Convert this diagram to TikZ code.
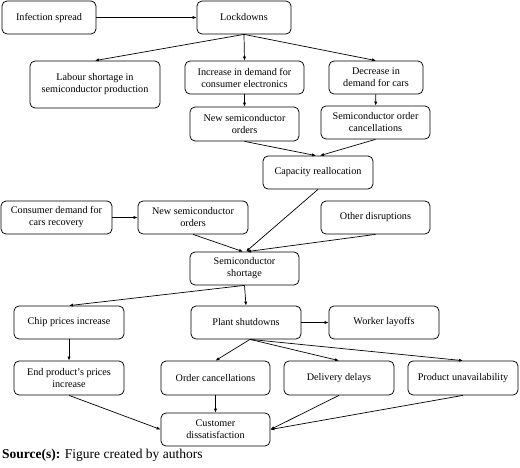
\documentclass[tikz,border=0pt]{standalone}
\usepackage{fontspec}
\setmainfont{Liberation Serif}
\usetikzlibrary{arrows.meta}
\begin{document}
\begin{tikzpicture}[x=1pt,y=-1pt,
  box/.style={draw, line width=0.75pt, rounded corners=5pt, align=center, inner sep=1pt,
    font=\fontsize{10.2}{12}\selectfont},
  arr/.style={draw, line width=0.7pt, -{Latex[length=4pt,width=3.2pt]}}]
\useasboundingbox (0,0) rectangle (520,468);
\newcommand{\bx}[6]{\node[box, minimum width=#4pt, minimum height=#5pt] (#1) at (#2,#3) {#6};}
\bx{inf}{49}{17.5}{94}{33}{Infection spread}
\bx{lock}{244}{17.5}{94}{33}{Lockdowns}
\bx{labour}{95}{84.5}{130}{47}{Labour shortage in\\semiconductor production}
\bx{incr}{244.5}{77.5}{119}{33}{Increase in demand for\\consumer electronics}
\bx{decr}{376}{77.5}{94}{33}{Decrease in\\demand for cars}
\bx{nsoa}{244.5}{124}{109}{34}{New semiconductor\\orders}
\bx{soc}{375.5}{122.5}{109}{33}{Semiconductor order\\cancellations}
\bx{cap}{318}{172.5}{110}{33}{Capacity reallocation}
\bx{cons}{56.5}{217.5}{111}{33}{Consumer demand for\\cars recovery}
\bx{nsob}{193}{217.5}{110}{33}{New semiconductor\\orders}
\bx{other}{375.5}{217.5}{109}{33}{Other disruptions}
\bx{short}{244.5}{268.5}{109}{33}{Semiconductor\\shortage}
\bx{chip}{69}{322.5}{110}{33}{Chip prices increase}
\bx{plant}{246}{322.5}{110}{33}{Plant shutdowns}
\bx{worker}{384}{322.5}{110}{33}{Worker layoffs}
\bx{endp}{69}{378}{110}{34}{End product's prices\\increase}
\bx{ordc}{215.5}{378}{109}{34}{Order cancellations}
\bx{deliv}{339}{378}{110}{34}{Delivery delays}
\bx{prod}{463}{378}{110}{34}{Product unavailability}
\bx{cust}{215.5}{429.5}{109}{33}{Customer\\dissatisfaction}
\path[arr] (inf) -- (lock);
\path[arr] (lock.south) -- (labour.north);
\path[arr] (lock.south) -- (incr.north);
\path[arr] (lock.south) -- (decr.north);
\path[arr] (incr) -- (nsoa);
\path[arr] (decr) -- (soc);
\path[arr] (nsoa.south) -- ([xshift=-2pt]cap.north);
\path[arr] (soc.south) -- ([xshift=2pt]cap.north);
\path[arr] (cap.south) -- ([xshift=1.5pt]short.north);
\path[arr] (cons) -- (nsob);
\path[arr] (nsob.south) -- ([xshift=-1.5pt]short.north);
\path[arr] (other.south) -- ([xshift=2.5pt]short.north);
\path[arr] (short.south) -- (chip.north);
\path[arr] (short.south) -- (plant.north);
\path[arr] (plant) -- (worker);
\path[arr] (chip) -- (endp);
\path[arr] ([xshift=4pt]plant.south) -- (ordc.north);
\path[arr] ([xshift=4pt]plant.south) -- (deliv.north);
\path[arr] ([xshift=4pt]plant.south) -- (prod.north);
\path[arr] (ordc) -- (cust);
\path[arr] (endp.south) -- (cust.west);
\path[arr] (deliv.south) -- (cust.east);
\path[arr] (prod.south) -- (cust.east);
\node[anchor=base west, inner sep=0pt, font=\fontsize{13.5}{16}\selectfont] (src) at (2,458.5) {\textbf{Source(s):} Figure created by authors};
\end{tikzpicture}
\end{document}
